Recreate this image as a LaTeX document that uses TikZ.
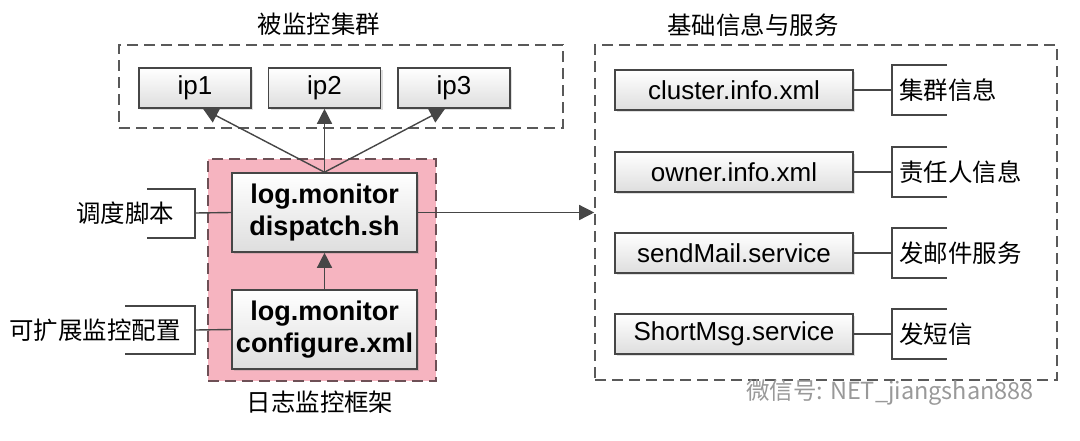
\documentclass[tikz,border=0pt]{standalone}
\usepackage{fontspec}
\setmainfont{Liberation Sans}
\newfontfamily\cjk[Scale=0.94]{Noto Sans CJK SC}
\usetikzlibrary{arrows.meta,shadows,calc}

\definecolor{framepink}{RGB}{246,180,192}
\definecolor{framedash}{RGB}{110,80,86}
\definecolor{linegray}{RGB}{70,70,70}

\tikzset{
    txt/.style={font=\fontsize{13}{16}\selectfont, inner sep=0pt},
    filebox/.style={txt, draw=linegray, line width=0.8pt, top color=white, bottom color=black!13,
        drop shadow={shadow xshift=1pt, shadow yshift=-1pt, opacity=0.25}},
    groupbox/.style={draw=black!65, line width=0.8pt, dash pattern=on 5.5pt off 3pt},
    conn/.style={draw=linegray, line width=0.7pt},
    arr/.style={conn, -{Triangle[length=7.5pt,width=7.5pt]}},
}

\begin{document}
\begin{tikzpicture}[x=0.5pt, y=-0.5pt]

            \useasboundingbox (0,0) rectangle (1080,440);

            % groups
            \node[groupbox, minimum width=222pt, minimum height=41.5pt] (watched) at (341,86.5) {};
            \node[groupbox, minimum width=231pt, minimum height=167.5pt] (infobox) at (826,212.5) {};
            \node[groupbox, draw=framedash, fill=framepink, minimum width=114pt, minimum height=111pt] (frame) at (322,270) {};

            \node[txt] (watchedtitle) at (319,24) {\cjk 被监控集群};
            \node[txt] (infotitle) at (753,25) {\cjk 基础信息与服务};
            \node[txt] (frametitle) at (320,402) {\cjk 日志监控框架};

            % monitored hosts
            \node[filebox, minimum width=56pt, minimum height=20pt] (ip1) at (195,88) {ip1};
            \node[filebox, minimum width=56pt, minimum height=20pt] (ip2) at (324.5,88) {ip2};
            \node[filebox, minimum width=56pt, minimum height=20pt] (ip3) at (454,88) {ip3};

            % framework
            \node[filebox, font=\fontsize{13.5}{16}\selectfont\bfseries, align=center,
                minimum width=92.5pt, minimum height=39.5pt] (dispatch) at (324.5,212.5) {log.monitor\\dispatch.sh};
            \node[filebox, font=\fontsize{13.5}{16}\selectfont\bfseries, align=center,
                minimum width=92.5pt, minimum height=39.5pt] (configure) at (324.5,329.5) {log.monitor\\configure.xml};

            \draw[arr] (dispatch.north) -- ($(ip1.south)+(8,0)$);
            \draw[arr] (dispatch.north) -- (ip2.south);
            \draw[arr] (dispatch.north) -- ($(ip3.south)+(-9,0)$);
            \draw[arr] (configure) -- (dispatch);
            \draw[arr] (dispatch.east) -- (infobox.west);

            % left notes
            \node[txt] (dispatchnote) at (125,213) {\cjk 调度脚本};
            \draw[conn] (147,189) -- (195,189) -- (195,238) -- (147,238);
            \coordinate (dispatchtick) at (195,213);
            \draw[conn] (dispatchtick) -- (dispatch.west);

            \node[txt] (confignote) at (95,330) {\cjk 可扩展监控配置};
            \draw[conn] (125,306) -- (195,306) -- (195,354) -- (125,354);
            \coordinate (configtick) at (195,330);
            \draw[conn] (configtick) -- (configure.west);

            % info and services
            \foreach \name/\file/\note/\y in {cluster/cluster.info.xml/集群信息/90,
                    owner/owner.info.xml/责任人信息/172,
                    mail/sendMail.service/发邮件服务/253,
                    sms/ShortMsg.service/发短信/334} {
                \node[filebox, minimum width=119pt, minimum height=20pt] (\name) at (734,\y) {\file};
                \draw[conn] (947,\y-25) -- (892,\y-25) -- (892,\y+25) -- (947,\y+25);
                \coordinate (\name tick) at (892,\y);
                \draw[conn] (\name.east) -- (\name tick);
                \node[txt, anchor=west] (\name note) at (899,\y) {\cjk \note};
            }

            \node[txt, text=black!40, font=\fontsize{12.5}{14}\selectfont] (mark) at (890,393) {\cjk 微信号: NET\_jiangshan888};

\end{tikzpicture}
\end{document}
